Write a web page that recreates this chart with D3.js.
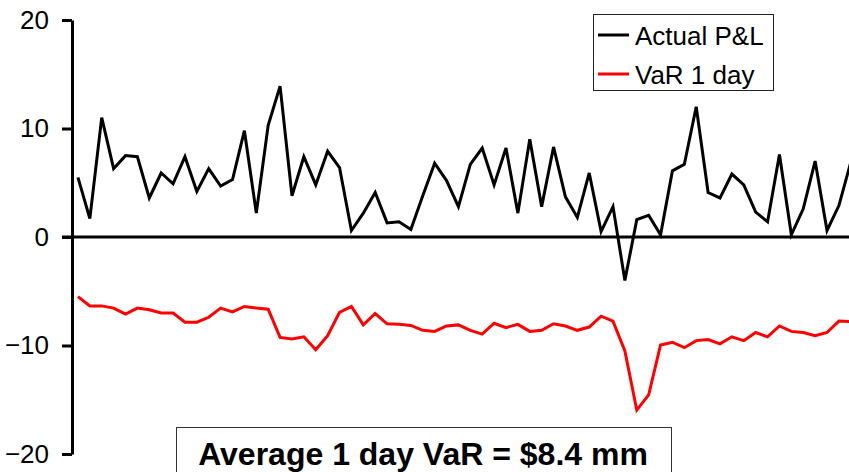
<!DOCTYPE html>
<html>
<head>
<meta charset="utf-8">
<script src="https://cdn.jsdelivr.net/npm/d3@7/dist/d3.min.js"></script>
<style>
  html, body { margin: 0; padding: 0; background: #fff; }
  svg { display: block; font-family: "Liberation Sans", Arial, Helvetica, sans-serif; }
</style>
</head>
<body>
<svg id="chart" width="849" height="472"></svg>
<script>
// Daily actual P&L ($mm)
const actualPnL = [
  5.5, 1.7, 11.0, 6.3, 7.5, 7.4, 3.6, 5.9, 4.9, 7.4,
  4.2, 6.3, 4.7, 5.3, 9.8, 2.2, 10.3, 13.9, 3.8, 7.4,
  4.8, 7.9, 6.4, 0.6, 2.2, 4.1, 1.3, 1.4, 0.7, 3.8,
  6.8, 5.2, 2.8, 6.7, 8.2, 4.8, 8.2, 2.2, 9.0, 2.8,
  8.3, 3.7, 1.8, 5.9, 0.5, 2.8, -4.0, 1.6, 2.0, 0.2,
  6.1, 6.7, 12.0, 4.1, 3.6, 5.8, 4.8, 2.3, 1.4, 7.6,
  0.2, 2.6, 7.0, 0.6, 2.9, 6.9
];

// Daily 1-day VaR ($mm, shown as a loss)
const var1Day = [
  -5.5, -6.35, -6.35, -6.55, -7.1, -6.55, -6.7, -7.0, -7.0, -7.85,
  -7.85, -7.4, -6.55, -6.9, -6.4, -6.55, -6.65, -9.25, -9.4, -9.2,
  -10.4, -9.1, -6.95, -6.4, -8.1, -7.05, -8.0, -8.05, -8.15, -8.6,
  -8.7, -8.2, -8.1, -8.6, -8.95, -7.95, -8.35, -8.05, -8.7, -8.6,
  -8.0, -8.2, -8.6, -8.3, -7.3, -7.75, -10.5, -15.95, -14.55, -9.95,
  -9.7, -10.2, -9.55, -9.45, -9.85, -9.2, -9.55, -8.8, -9.2, -8.2,
  -8.7, -8.8, -9.1, -8.8, -7.75, -7.8
];

const yTicks = [-20, -10, 0, 10, 20];
const legendLabels = ["Actual P&L", "VaR 1 day"];
const seriesColors = ["#000000", "#ff0000"];
const noteText = "Average 1 day VaR = $8.4 mm";

const days = d3.range(1, actualPnL.length + 1);

const svg = d3.select("#chart");
const axisX = 72;
const step = 11.89;

const x = d3.scaleBand()
  .domain(days)
  .range([axisX, axisX + step * days.length])
  .paddingInner(0)
  .paddingOuter(0);

const y = d3.scaleLinear().domain([-20, 20]).range([454, 20]);

const xc = d => x(d) + x.bandwidth() / 2;

// Vertical axis with outside ticks
const yAxis = svg.append("g")
  .attr("transform", `translate(${axisX},0)`)
  .call(d3.axisLeft(y).tickValues(yTicks).tickSize(10).tickPadding(13).tickSizeOuter(0)
    .tickFormat(d3.format("d")));
yAxis.select(".domain").attr("stroke", "#000").attr("stroke-width", 3);
yAxis.selectAll(".tick line").attr("stroke", "#000").attr("stroke-width", 3);
yAxis.selectAll(".tick text")
  .attr("fill", "#000")
  .style("font-size", "26px")
  .style("font-family", "'Liberation Sans', Arial, sans-serif");

// Horizontal zero line
svg.append("line")
  .attr("x1", axisX - 10).attr("x2", 849)
  .attr("y1", y(0)).attr("y2", y(0))
  .attr("stroke", "#000").attr("stroke-width", 3);

// Series lines
const line = d3.line().x((d, i) => xc(days[i])).y(d => y(d));
[actualPnL, var1Day].forEach((series, k) => {
  svg.append("path")
    .datum(series)
    .attr("fill", "none")
    .attr("stroke", seriesColors[k])
    .attr("stroke-width", 3)
    .attr("stroke-linejoin", "miter")
    .attr("d", line);
});

// Legend
const legend = svg.append("g");
legend.append("rect")
  .attr("x", 593.5).attr("y", 14.5).attr("width", 180).attr("height", 76)
  .attr("fill", "#fff").attr("stroke", "#222").attr("stroke-width", 1);
legendLabels.forEach((label, i) => {
  const cy = 35 + i * 39;
  legend.append("line")
    .attr("x1", 598).attr("x2", 629).attr("y1", cy).attr("y2", cy)
    .attr("stroke", seriesColors[i]).attr("stroke-width", 3);
  legend.append("text")
    .attr("x", 635).attr("y", cy + 10)
    .style("font-size", "26px")
    .attr("fill", "#000")
    .text(label);
});

// Annotation box
const note = svg.append("g");
note.append("rect")
  .attr("x", 176.5).attr("y", 427.5).attr("width", 495).attr("height", 60)
  .attr("fill", "#fff").attr("stroke", "#333").attr("stroke-width", 1);
note.append("text")
  .attr("x", 423).attr("y", 465)
  .attr("text-anchor", "middle")
  .style("font-size", "32px")
  .style("font-weight", "bold")
  .attr("fill", "#000")
  .text(noteText);
</script>
</body>
</html>
